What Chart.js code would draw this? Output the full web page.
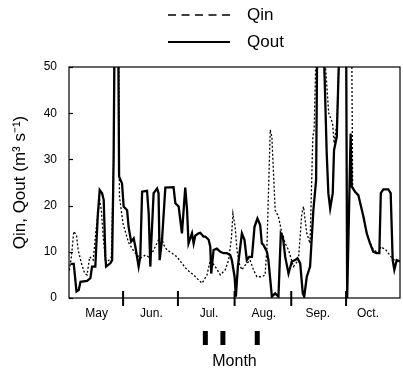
<!DOCTYPE html>
<html>
<head>
<meta charset="utf-8">
<script src="https://cdn.jsdelivr.net/npm/chart.js"></script>
<style>
  body { margin: 0; background: #fff; }
  #wrap { position: relative; width: 403px; height: 374px; }
  #leg { position: absolute; left: 166px; top: 5px; font-family: "Liberation Sans", Arial, sans-serif; font-size: 17px; color: #000; }
  #leg .row { height: 27px; line-height: 20px; display: flex; align-items: flex-start; }
  #leg svg { width: 66px; height: 20px; margin-right: 15px; }
</style>
</head>
<body>
<div id="wrap">
  <canvas id="flowChart" width="403" height="374"></canvas>
  <div id="leg">
    <div class="row"><svg><line x1="2" y1="10" x2="64" y2="10" stroke="#000" stroke-width="1.3" stroke-dasharray="8,5.5"/></svg>Qin</div>
    <div class="row"><svg><line x1="2" y1="10" x2="64" y2="10" stroke="#000" stroke-width="2"/></svg>Qout</div>
  </div>
</div>
<script>
// days counted from 1 May
var monthNames = ['May', 'Jun.', 'Jul.', 'Aug.', 'Sep.', 'Oct.'];
var monthLabelDays = [16.5, 46.5, 78, 108, 137.5, 165];
var monthEdges = [31, 61, 92, 123, 153];
var yTicks = [0, 10, 20, 30, 40, 50];
var eventDays = [76, 85.6, 104.4];

var qoutDays = [2.2, 4.0, 5.5, 6.7, 7.7, 11.3, 13.1, 14.0, 15.8, 17.1, 18.2, 19.5, 20.4, 21.3, 21.7, 24.0, 25.0, 25.8, 26.4,
  28.3, 28.8, 30.4, 31.3, 33.2, 34.0, 35.4, 36.8, 37.7, 39.5, 40.4, 41.4, 44.1, 45.0, 45.9, 46.4, 47.7, 49.6, 50.4, 51.0,
  52.3, 54.1, 58.6, 59.6, 61.4, 63.2, 65.0, 66.0, 66.8, 68.7, 69.6, 70.5, 72.3, 73.2, 75.0, 76.0, 77.8, 78.7, 79.2, 80.5,
  82.3, 84.2, 86.0, 87.8, 89.6, 90.5, 92.0, 92.7, 93.8, 96.0, 97.4, 98.7, 100.0, 101.5, 102.9, 104.5, 106.0, 106.9, 107.8,
  109.7, 110.5, 112.4, 114.2, 116.0, 117.3, 118.4, 119.7, 121.5, 123.3, 125.1, 126.4, 127.9, 129.3, 130.1, 131.5, 133.3,
  135.1, 136.6, 137.3, 140.4, 142.4, 143.3, 144.3, 145.7, 146.4, 147.9, 149.7, 153.0, 153.6, 155.5, 156.1, 157.9, 159.7,
  162.5, 164.3, 166.1, 167.9, 169.8, 171.2, 172.0, 173.4, 176.1, 177.4, 178.5, 179.4, 180.7, 182.5];
var qoutVals = [7.4, 7.4, 1.4, 1.7, 3.5, 3.7, 4.3, 6.8, 6.8, 17.6, 23.4, 22.7, 21.2, 8.9, 6.8, 7.5, 8.2, 29.9, 60,
  60, 26.3, 24.8, 19.8, 19.0, 15.4, 12.2, 12.9, 11.1, 6.8, 8.9, 23.0, 23.2, 18.3, 6.8, 11.8, 22.7, 23.7, 22.7, 8.2,
  12.6, 23.9, 24.0, 20.5, 19.8, 14.0, 23.9, 19.0, 11.8, 14.0, 11.8, 13.5, 14.0, 14.1, 13.3, 13.3, 12.6, 11.1, 5.3, 10.4,
  10.7, 10.0, 9.7, 9.7, 9.3, 8.2, 4.6, 0.3, 6.8, 14.0, 12.6, 8.2, 8.9, 8.9, 15.4, 17.2, 15.8, 11.8, 11.5,
  10.0, 8.2, 0.3, 1.0, 0.3, 14.0, 13.3, 8.9, 5.3, 7.9, 8.2, 8.6, 7.5, 1.0, 0.3, 4.6, 6.8,
  19.0, 25.5, 60, 60, 31.3, 22.7, 19.4, 22.7, 32.0, 34.9, 60, 60, 0, 35.6, 24.1, 23.0, 22.3,
  17.6, 14.0, 11.8, 10.0, 9.7, 9.7, 22.7, 23.5, 23.5, 22.7, 8.2, 6.1, 8.2, 7.9];

var qinDays = [1.6, 2.7, 4.0, 5.5, 6.4, 8.2, 10.0, 11.3, 12.7, 14.6, 16.4, 18.2, 19.1, 20.1, 21.5, 23.3, 24.6, 25.8, 26.4,
  28.6, 29.0, 31.0, 34.0, 37.0, 40.4, 43.2, 45.0, 46.8, 48.6, 50.4, 52.3, 53.2, 55.0, 57.8, 60.5, 63.2, 66.0, 69.6, 72.3,
  74.2, 76.9, 78.7, 81.4, 84.2, 86.9, 88.7, 90.2, 91.1, 92.3, 93.3, 94.5, 96.0, 97.8, 100.5, 102.3, 104.2, 106.9, 108.7,
  109.7, 111.5, 112.4, 114.2, 116.0, 117.9, 119.7, 121.5, 124.2, 126.9, 128.8, 129.7, 131.5, 133.3, 134.8, 135.5, 137.0,
  140.0, 143.5, 145.6, 146.5, 148.0, 149.7, 156.0, 156.6, 157.9, 159.7, 162.5, 164.3, 166.1, 167.9, 169.8, 171.2, 172.0,
  174.8, 177.6, 179.4, 180.7, 182.5];
var qinVals = [6.0, 8.9, 14.4, 13.6, 10.4, 7.5, 5.3, 5.0, 8.9, 8.2, 15.4, 21.2, 19.0, 13.3, 7.5, 8.2, 8.9, 29.9, 60,
  60, 22.0, 16.0, 12.0, 10.0, 8.6, 9.3, 8.9, 9.7, 11.1, 12.6, 12.9, 11.5, 10.4, 9.7, 8.9, 7.5, 6.1, 5.0, 3.9,
  3.2, 5.0, 8.2, 6.8, 5.0, 6.1, 8.2, 12.6, 18.3, 15.4, 10.4, 7.5, 6.1, 7.1, 8.2, 6.1, 4.6, 4.6, 5.0,
  11.1, 36.4, 34.9, 19.0, 17.6, 14.0, 11.8, 10.4, 6.8, 8.2, 18.3, 19.8, 14.0, 11.8, 34.9, 36.4, 60,
  60, 40.0, 37.9, 33.5, 38.0, 60, 60, 24.1, 23.0, 22.0, 17.6, 14.0, 12.0, 10.5, 10.0, 10.0, 11.1,
  10.4, 8.9, 8.2, 8.0, 7.9];

function pairs(days, vals) {
  return days.map(function (d, i) { return { x: d, y: vals[i] }; });
}

var framePlugin = {
  id: 'frame',
  afterDatasetsDraw: function (chart) {
    var ctx = chart.ctx, a = chart.chartArea;
    var xs = chart.scales.x, ys = chart.scales.y;
    ctx.save();
    ctx.strokeStyle = '#000';
    ctx.lineWidth = 1.2;
    ctx.strokeRect(a.left, a.top, a.right - a.left, a.bottom - a.top);
    // y ticks, pointing in
    yTicks.forEach(function (v) {
      var y = Math.round(ys.getPixelForValue(v)) + 0.5;
      ctx.beginPath();
      ctx.moveTo(a.left, y);
      ctx.lineTo(a.left + 4, y);
      ctx.stroke();
    });
    // month edges, crossing the axis
    ctx.lineWidth = 2;
    monthEdges.forEach(function (d) {
      var x = xs.getPixelForValue(d);
      ctx.beginPath();
      ctx.moveTo(x, a.bottom - 7);
      ctx.lineTo(x, a.bottom + 8);
      ctx.stroke();
    });
    // event markers under the axis
    ctx.fillStyle = '#000';
    eventDays.forEach(function (d) {
      var x = xs.getPixelForValue(d);
      ctx.fillRect(x - 2.5, 331, 5, 14);
    });
    ctx.restore();
  }
};

new Chart(document.getElementById('flowChart').getContext('2d'), {
  type: 'line',
  data: {
    datasets: [{
      label: 'Qin',
      data: pairs(qinDays, qinVals),
      borderColor: '#000',
      borderWidth: 1.3,
      borderDash: [2, 2],
      pointRadius: 0,
      tension: 0
    }, {
      label: 'Qout',
      data: pairs(qoutDays, qoutVals),
      borderColor: '#000',
      borderWidth: 2.3,
      pointRadius: 0,
      tension: 0
    }]
  },
  options: {
    responsive: false,
    animation: false,
    layout: { padding: { top: 67, right: 3, left: 0, bottom: 0 } },
    plugins: { legend: { display: false }, tooltip: { enabled: false } },
    scales: {
      x: {
        type: 'linear',
        min: 1.4,
        max: 182.5,
        grid: { display: false, drawTicks: false },
        border: { display: false },
        afterBuildTicks: function (s) {
          s.ticks = monthLabelDays.map(function (v) { return { value: v }; });
        },
        afterFit: function (s) { s.height = 76; },
        ticks: {
          autoSkip: false,
          maxRotation: 0,
          padding: 8,
          color: '#000',
          font: { family: 'Liberation Sans', size: 12 },
          callback: function (v, i) { return monthNames[i]; }
        },
        title: {
          display: true,
          text: 'Month',
          color: '#000',
          font: { family: 'Liberation Sans', size: 16 },
          padding: { top: 0, bottom: 3 }
        }
      },
      y: {
        min: 0,
        max: 50,
        grid: { display: false, drawTicks: false },
        border: { display: false },
        afterFit: function (s) { s.width = 69; },
        ticks: {
          stepSize: 10,
          padding: 12,
          color: '#000',
          font: { family: 'Liberation Sans', size: 12 }
        },
        title: {
          display: true,
          text: 'Qin, Qout (m³ s⁻¹)',
          color: '#000',
          font: { family: 'Liberation Sans', size: 17 },
          padding: { top: 10, bottom: 0 }
        }
      }
    }
  },
  plugins: [framePlugin]
});
</script>
</body>
</html>
